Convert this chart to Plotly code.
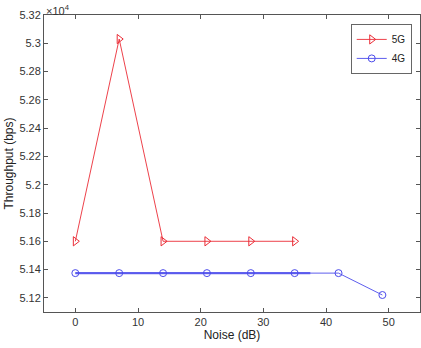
import plotly.graph_objects as go

noise_5g = [0, 7, 14, 21, 28, 35]
thr_5g = [51600, 53030, 51600, 51600, 51600, 51600]
noise_4g = [0, 7, 14, 21, 28, 35, 42, 49]
thr_4g = [51375, 51375, 51375, 51375, 51375, 51375, 51375, 51220]
noise_4g_band = [0, 37.5]
thr_4g_band = [51375, 51375]

scale = 1e4
x_ticks = [0, 10, 20, 30, 40, 50]
y_ticks = [5.12, 5.14, 5.16, 5.18, 5.2, 5.22, 5.24, 5.26, 5.28, 5.3, 5.32]
y_tick_labels = ["5.12", "5.14", "5.16", "5.18", "5.2", "5.22", "5.24", "5.26", "5.28", "5.3", "5.32"]

red = "rgb(235,45,55)"
blue = "rgb(75,75,235)"
FONT = "Liberation Sans, Arial, sans-serif"

fig = go.Figure()
fig.add_trace(go.Scatter(
    x=noise_4g_band, y=[v / scale for v in thr_4g_band], mode="lines",
    line=dict(color="rgb(110,110,240)", width=2.2), showlegend=False, hoverinfo="skip"))
fig.add_trace(go.Scatter(
    x=noise_5g, y=[v / scale for v in thr_5g], mode="lines+markers", name="5G",
    line=dict(color=red, width=0.9),
    marker=dict(symbol="triangle-right-open", size=8, color=red, line=dict(width=1))))
fig.add_trace(go.Scatter(
    x=noise_4g, y=[v / scale for v in thr_4g], mode="lines+markers", name="4G",
    line=dict(color=blue, width=0.9),
    marker=dict(symbol="circle-open", size=7, color=blue, line=dict(width=1))))

axis_common = dict(
    showline=True, linecolor="#555555", linewidth=1, mirror="allticks",
    ticks="inside", ticklen=4, tickcolor="#555555", showgrid=False, zeroline=False,
    automargin=False,
    tickfont=dict(family=FONT, size=11, color="#333333"),
)

fig.update_layout(
    width=421, height=348,
    margin=dict(l=44, r=1, t=15, b=36),
    paper_bgcolor="white", plot_bgcolor="white",
    font=dict(family=FONT, size=11, color="#333333"),
    xaxis=dict(range=[-5, 55], tickvals=x_ticks,
               title=dict(text="Noise (dB)", font=dict(size=12, color="#222222"), standoff=3),
               **axis_common),
    yaxis=dict(range=[5.11, 5.32], tickvals=y_ticks, ticktext=y_tick_labels,
               title=dict(text="Throughput (bps)", font=dict(size=12, color="#222222"), standoff=3),
               **axis_common),
    legend=dict(x=0.978, y=0.97, xanchor="right", yanchor="top",
                bgcolor="white", bordercolor="#666666", borderwidth=1,
                font=dict(size=10, color="#222222"), tracegroupgap=0,
                itemwidth=30),
    showlegend=True,
    annotations=[dict(text="×10<sup>4</sup>", x=0, y=1, xref="paper", yref="paper",
                      xanchor="left", yanchor="bottom", showarrow=False,
                      font=dict(size=11, color="#333333"), yshift=-4)],
)

fig.write_html("out.html", config={"displayModeBar": False},
               post_script="document.body.style.margin='0';")
